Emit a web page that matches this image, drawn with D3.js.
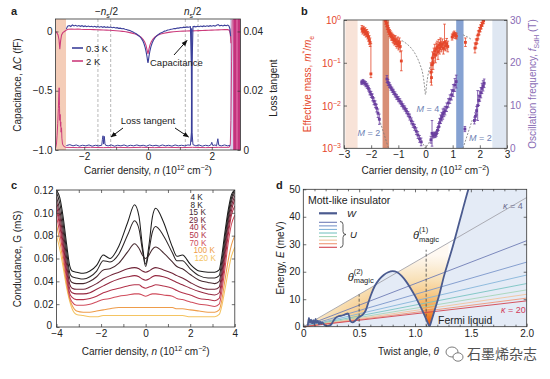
<!DOCTYPE html>
<html><head><meta charset="utf-8">
<script src="https://cdn.jsdelivr.net/npm/d3@7"></script>
<style>body{margin:0;background:#fff}svg{display:block}</style>
</head><body><svg id="chart" width="550" height="379"></svg>
<script>
// ================= DATA =================
// ---- panel a ----
const aPeach = [-2.9, -2.57], aLav = [2.57, 2.67], aMag = [2.67, 2.9];
const aNsLines = [-1.57, -1.17, 1.17, 1.57];
const capBlue = [[-2.56,0.02],[-2.52,0.045],[-2.47,0.05],[-2.42,0.042],[-2.37,0.055],[-2.32,0.046],[-2.27,0.052],[-2.22,0.044],[-2.17,0.05],[-2.12,0.043],[-2.07,0.049],[-2.02,0.041],[-1.97,0.047],[-1.92,0.04],[-1.87,0.046],[-1.82,0.04],[-1.77,0.044],[-1.72,0.038],[-1.67,0.043],[-1.62,0.037],[-1.57,0.042],[-1.52,0.036],[-1.47,0.041],[-1.42,0.035],[-1.37,0.04],[-1.32,0.034],[-1.27,0.038],[-1.22,0.033],[-1.17,0.037],[-1.12,0.031],[-1.07,0.035],[-1.02,0.029],[-0.97,0.032],[-0.92,0.026],[-0.87,0.028],[-0.82,0.023],[-0.77,0.024],[-0.72,0.018],[-0.67,0.017],[-0.62,0.011],[-0.57,0.008],[-0.52,0.001],[-0.47,-0.004],[-0.42,-0.012],[-0.37,-0.02],[-0.32,-0.03],[-0.27,-0.04],[-0.22,-0.055],[-0.17,-0.075],[-0.13,-0.1],[-0.09,-0.135],[-0.06,-0.17],[-0.03,-0.215],[-0.01,-0.255],[0,-0.265],[0.01,-0.25],[0.03,-0.21],[0.06,-0.165],[0.09,-0.13],[0.13,-0.098],[0.17,-0.074],[0.22,-0.053],[0.27,-0.038],[0.32,-0.027],[0.37,-0.018],[0.42,-0.01],[0.47,-0.004],[0.52,0.003],[0.57,0.006],[0.62,0.012],[0.67,0.014],[0.72,0.019],[0.77,0.02],[0.82,0.025],[0.87,0.024],[0.92,0.029],[0.97,0.028],[1.02,0.033],[1.07,0.031],[1.12,0.036],[1.17,0.033],[1.22,0.038],[1.27,0.035],[1.33,0.04],[1.36,-0.3],[1.37,-0.93],[1.38,-0.3],[1.41,0.04],[1.45,0.043],[1.5,0.039],[1.55,0.044],[1.6,0.04],[1.65,0.046],[1.7,0.041],[1.75,0.047],[1.8,0.042],[1.85,0.048],[1.9,0.043],[1.95,0.049],[2.0,0.044],[2.05,0.05],[2.1,0.045],[2.15,0.052],[2.2,0.058],[2.25,0.047],[2.3,0.052],[2.35,0.046],[2.4,0.053],[2.45,0.048],[2.5,0.054],[2.54,0.045],[2.57,0.02],[2.59,-0.04]];
const capPink = [[-2.9,0.0],[-2.86,-0.01],[-2.82,-0.03],[-2.79,-0.07],[-2.765,-0.15],[-2.74,-0.08],[-2.71,-0.03],[-2.67,-0.01],[-2.62,0.0],[-2.56,0.012],[-2.5,0.018],[-2.4,0.02],[-2.3,0.019],[-2.2,0.02],[-2.1,0.018],[-2.0,0.017],[-1.9,0.016],[-1.8,0.016],[-1.7,0.015],[-1.6,0.014],[-1.5,0.013],[-1.4,0.012],[-1.3,0.011],[-1.2,0.01],[-1.1,0.008],[-1.0,0.006],[-0.9,0.004],[-0.8,0.001],[-0.7,-0.003],[-0.6,-0.008],[-0.5,-0.014],[-0.4,-0.022],[-0.3,-0.034],[-0.22,-0.048],[-0.15,-0.068],[-0.1,-0.09],[-0.06,-0.12],[-0.03,-0.155],[0,-0.19],[0.03,-0.15],[0.06,-0.115],[0.1,-0.088],[0.15,-0.066],[0.22,-0.047],[0.3,-0.033],[0.4,-0.022],[0.5,-0.015],[0.6,-0.01],[0.7,-0.006],[0.8,-0.003],[0.9,0.0],[1.0,0.002],[1.1,0.003],[1.2,0.004],[1.3,0.005],[1.4,0.005],[1.5,0.006],[1.6,0.007],[1.7,0.008],[1.8,0.009],[1.9,0.01],[2.0,0.011],[2.1,0.012],[2.2,0.013],[2.3,0.014],[2.4,0.015],[2.5,0.015],[2.55,0.01],[2.58,-0.02],[2.6,-0.1]];
const ltBlue = [[-2.56,0.0015],[-2.45,0.0018],[-2.35,0.0014],[-2.25,0.0017],[-2.15,0.0013],[-2.05,0.0016],[-1.95,0.0014],[-1.85,0.0017],[-1.75,0.0013],[-1.65,0.0016],[-1.55,0.0014],[-1.45,0.0016],[-1.43,0.0035],[-1.41,0.0048],[-1.39,0.002],[-1.37,0.0046],[-1.35,0.0022],[-1.33,0.0016],[-1.25,0.0014],[-1.15,0.0017],[-1.05,0.0013],[-0.95,0.0016],[-0.85,0.0014],[-0.75,0.0017],[-0.65,0.0013],[-0.55,0.0016],[-0.45,0.0014],[-0.35,0.0017],[-0.25,0.0014],[-0.15,0.0016],[-0.05,0.0013],[0.05,0.0017],[0.15,0.0014],[0.25,0.0016],[0.35,0.0013],[0.45,0.0017],[0.55,0.0014],[0.65,0.0016],[0.75,0.0013],[0.85,0.0017],[0.95,0.0014],[1.05,0.0016],[1.15,0.0014],[1.25,0.0017],[1.33,0.0016],[1.36,0.006],[1.37,0.041],[1.38,0.006],[1.41,0.0018],[1.5,0.0014],[1.6,0.0017],[1.7,0.0013],[1.8,0.0016],[1.9,0.0014],[1.97,0.0017],[2.0,0.0026],[2.03,0.0015],[2.1,0.0017],[2.15,0.0014],[2.19,0.0038],[2.22,0.0016],[2.3,0.0014],[2.4,0.0017],[2.5,0.0014],[2.58,0.0016]];
const ltPink = [[-2.9,0.0005],[-2.87,0.002],[-2.85,0.005],[-2.83,0.009],[-2.81,0.014],[-2.795,0.019],[-2.785,0.021],[-2.775,0.015],[-2.765,0.01],[-2.755,0.012],[-2.745,0.008],[-2.735,0.0095],[-2.725,0.006],[-2.71,0.0075],[-2.70,0.004],[-2.68,0.002],[-2.64,0.0012],[-2.58,0.0009],[-2.2,0.0008],[-1.8,0.0009],[-1.4,0.0008],[-1.0,0.0009],[-0.6,0.0008],[-0.2,0.0009],[0.2,0.0008],[0.6,0.0009],[1.0,0.0008],[1.4,0.0009],[1.8,0.0008],[2.2,0.0009],[2.55,0.0009],[2.58,0.002],[2.6,0.01],[2.62,0.03],[2.64,0.044]];

// ---- panel b ----
const bBandRanges = [[-2.95,-2.5],[-1.58,-1.34],[1.13,1.40],[2.46,2.97]];
// effective mass points: [n, m*/me, lower, upper]
const massPts = [[-2.34,0.62,0.52,0.74],[-2.31,0.56,0.47,0.66],[-2.28,0.60,0.50,0.71],[-2.25,0.53,0.44,0.63],[-2.22,0.55,0.45,0.66],[-2.19,0.48,0.40,0.58],[-2.16,0.50,0.41,0.60],[-2.13,0.44,0.36,0.54],[-2.10,0.40,0.32,0.50],[-2.07,0.34,0.27,0.43],[-2.04,0.30,0.24,0.38],[-2.01,0.055,0.045,0.28],
[-1.47,0.95,0.80,1.1],[-1.44,0.85,0.70,1.0],[-1.41,0.72,0.60,0.86],[-1.38,0.62,0.52,0.74],[-1.35,0.55,0.46,0.66],[-1.32,0.50,0.41,0.60],[-1.29,0.46,0.38,0.56],[-1.26,0.42,0.34,0.52],[-1.23,0.40,0.33,0.49],[-1.20,0.37,0.30,0.46],[-1.17,0.35,0.28,0.44],[-1.14,0.33,0.26,0.42],[-1.11,0.34,0.27,0.43],[-1.08,0.30,0.24,0.38],[-1.05,0.28,0.22,0.36],[-1.02,0.31,0.24,0.40],[-0.99,0.26,0.20,0.34],[-0.96,0.29,0.22,0.38],[-0.93,0.24,0.18,0.32],[-0.89,0.11,0.065,0.19],
[0.20,0.06,0.035,0.10],[0.22,0.045,0.03,0.07],[0.24,0.09,0.06,0.13],[0.26,0.13,0.09,0.18],[0.28,0.10,0.07,0.15],[0.31,0.16,0.11,0.22],[0.34,0.19,0.13,0.27],[0.37,0.15,0.10,0.22],[0.40,0.21,0.15,0.29],[0.43,0.23,0.16,0.32],[0.46,0.18,0.12,0.26],[0.49,0.26,0.19,0.35],[0.52,0.22,0.16,0.30],[0.55,0.28,0.20,0.38],[0.58,0.24,0.18,0.32],[0.62,0.27,0.20,0.36],[0.66,0.22,0.16,0.30],[0.70,0.30,0.20,0.80],[0.74,0.25,0.19,0.33],[0.78,0.28,0.21,0.37],[0.82,0.24,0.18,0.32],
[0.98,0.40,0.34,0.47],[1.02,0.45,0.38,0.52],[1.06,0.47,0.40,0.55],[1.10,0.44,0.37,0.51],[1.14,0.42,0.36,0.49],[1.47,0.30,0.24,0.38],
[1.82,0.22,0.17,0.29],[1.86,0.28,0.22,0.36],[1.90,0.35,0.28,0.44],[1.94,0.45,0.36,0.56],[1.98,0.55,0.45,0.67],[2.02,0.64,0.53,0.77],[2.06,0.74,0.62,0.88],[2.10,0.85,0.72,1.0],[2.14,0.95,0.82,1.0]];
const massDash = [[-0.87,0.33],[-0.7,0.28],[-0.5,0.21],[-0.35,0.15],[-0.2,0.09],[-0.1,0.055],[-0.04,0.03],[0,0.018],[0.04,0.03],[0.1,0.055],[0.2,0.09],[0.35,0.15]];
const massDash2 = [[1.38,0.45],[1.55,0.4],[1.72,0.34]];
// SdH frequency points: [n, f (T), err]
const freqPts = [[-2.35,15.4,0.5],[-2.30,15.6,0.5],[-2.25,15.3,0.5],[-2.20,15.0,0.6],[-2.15,14.6,0.6],[-2.10,14.0,0.6],[-2.05,13.2,0.7],[-2.00,12.6,0.7],[-1.95,11.9,0.8],[-1.90,11.0,0.8],[-1.85,10.3,0.8],[-1.80,9.4,0.9],[-1.75,8.2,1.0],[-1.70,6.8,1.2],
[-1.42,16.2,0.8],[-1.38,15.4,0.7],[-1.33,14.8,0.6],[-1.28,14.2,0.6],[-1.23,13.7,0.6],[-1.18,13.2,0.6],[-1.12,12.6,0.6],[-1.06,12.0,0.6],[-1.00,11.5,0.6],[-0.94,11.0,0.6],[-0.88,10.4,0.6],[-0.82,9.8,0.6],[-0.76,9.3,0.6],[-0.70,8.7,0.6],[-0.64,8.0,0.6],[-0.58,7.3,0.7],[-0.52,6.4,0.7],[-0.46,5.6,0.7],[-0.40,4.9,0.7],[-0.34,4.0,0.8],[-0.28,3.1,0.8],[-0.22,2.2,0.8],[-0.16,1.5,0.9],
[0.20,2.0,0.8],[0.24,3.5,3.0],[0.28,3.0,0.6],[0.32,3.2,0.6],[0.36,3.1,0.6],[0.40,3.4,0.6],
[0.44,4.2,0.7],[0.48,5.0,0.8],[0.52,6.0,1.0],[0.56,6.8,1.0],[0.60,7.4,1.0],[0.64,8.0,1.2],[0.68,8.4,1.0],[0.72,8.8,1.0],[0.78,9.6,1.0],[0.84,10.6,1.0],[0.90,11.5,1.0],[0.96,12.5,1.2],[1.02,13.5,1.4],[1.08,14.8,1.5],[1.13,15.6,1.5],
[1.45,4.5,0.6],
[1.80,6.5,0.8],[1.84,7.5,0.8],[1.88,8.8,1.0],[1.92,10.0,3.5],[1.96,11.2,1.2],[2.00,12.2,1.2],[2.04,13.0,1.2],[2.08,14.0,1.2],[2.12,14.6,1.2],[2.16,15.2,1.0]];
const freqDash = [[[-1.70,6.8],[-1.36,0]],[[-0.40,4.6],[0,0],[0.45,4.6]],[[1.38,0],[1.72,6.6]]];
const bLabelsM = [["M = 2",-2.5,3.8],["M = 4",-0.33,9.2],["M = 2",1.6,2.5]];

// ---- panel c ----
const cTemps = ["4 K","8 K","15 K","29 K","40 K","50 K","70 K","100 K","120 K"];
const cN = [-4,-3.85,-3.7,-3.55,-3.4,-3.3,-3.1,-2.8,-2.5,-2.2,-1.9,-1.6,-1.2,-0.8,-0.5,-0.3,-0.15,0,0.15,0.3,0.45,0.8,1.2,1.4,1.65,2.0,2.4,2.8,3.1,3.3,3.4,3.55,3.7,3.85,4.0];
const cG = [
 [0.120,0.113,0.096,0.073,0.053,0.049,0.048,0.047,0.049,0.054,0.063,0.060,0.071,0.092,0.107,0.097,0.072,0.055,0.072,0.096,0.104,0.092,0.070,0.062,0.063,0.055,0.049,0.048,0.048,0.050,0.060,0.082,0.102,0.116,0.120],
 [0.118,0.108,0.090,0.067,0.047,0.044,0.043,0.042,0.044,0.049,0.058,0.057,0.064,0.081,0.093,0.086,0.068,0.053,0.067,0.083,0.088,0.080,0.065,0.058,0.058,0.051,0.045,0.043,0.043,0.045,0.055,0.077,0.098,0.113,0.120],
 [0.114,0.102,0.084,0.061,0.042,0.039,0.038,0.038,0.040,0.044,0.050,0.051,0.056,0.066,0.073,0.069,0.063,0.060,0.063,0.068,0.070,0.065,0.057,0.053,0.051,0.046,0.041,0.039,0.038,0.040,0.050,0.072,0.094,0.110,0.118],
 [0.110,0.097,0.078,0.055,0.037,0.034,0.033,0.033,0.035,0.038,0.042,0.045,0.048,0.051,0.052,0.051,0.049,0.048,0.049,0.051,0.052,0.050,0.047,0.045,0.043,0.039,0.035,0.033,0.033,0.035,0.045,0.067,0.090,0.106,0.115],
 [0.106,0.092,0.073,0.050,0.033,0.030,0.029,0.029,0.030,0.033,0.036,0.039,0.042,0.044,0.045,0.044,0.042,0.041,0.042,0.044,0.045,0.044,0.041,0.039,0.037,0.034,0.031,0.029,0.028,0.030,0.040,0.062,0.085,0.102,0.112],
 [0.102,0.088,0.068,0.046,0.029,0.026,0.024,0.024,0.025,0.027,0.030,0.032,0.034,0.036,0.037,0.037,0.035,0.034,0.035,0.036,0.037,0.036,0.034,0.032,0.030,0.028,0.025,0.024,0.023,0.025,0.035,0.057,0.080,0.098,0.106],
 [0.097,0.082,0.063,0.042,0.026,0.022,0.019,0.019,0.020,0.022,0.024,0.025,0.027,0.028,0.029,0.029,0.028,0.027,0.028,0.029,0.029,0.028,0.027,0.025,0.024,0.022,0.020,0.019,0.018,0.020,0.029,0.050,0.073,0.090,0.098],
 [0.090,0.075,0.057,0.038,0.024,0.019,0.014,0.013,0.013,0.014,0.015,0.016,0.017,0.017,0.017,0.017,0.017,0.017,0.017,0.017,0.017,0.017,0.017,0.016,0.016,0.015,0.014,0.013,0.013,0.015,0.022,0.040,0.058,0.072,0.080],
 [0.080,0.068,0.052,0.035,0.022,0.016,0.011,0.010,0.009,0.009,0.010,0.010,0.010,0.010,0.010,0.010,0.010,0.010,0.010,0.010,0.010,0.010,0.010,0.010,0.010,0.009,0.009,0.009,0.009,0.011,0.017,0.032,0.048,0.062,0.070]];

// ---- panel d ----
const wTheta = [0.04,0.05,0.06,0.07,0.08,0.09,0.10,0.11,0.12,0.13,0.14,0.15,0.16,0.17,0.19,0.21,0.23,0.25,0.27,0.29,0.31,0.34,0.37,0.40,0.41,0.42,0.44,0.46,0.48,0.50,0.53,0.56,0.58,0.61,0.64,0.68,0.72,0.76,0.80,0.84,0.88,0.92,0.96,1.00,1.04,1.08,1.11,1.13,1.15,1.18,1.22,1.26,1.30,1.34,1.38,1.42,1.46,1.50];
const wE = [0.3,3.2,1.5,2.6,1.2,2.4,0.8,2.8,1.4,2.2,0.9,1.8,1.0,1.6,0.6,0.3,0.4,0.8,2.2,3.2,3.7,4.0,4.4,4.8,4.0,2.2,1.6,2.0,2.8,3.5,4.3,6.0,8.5,12.0,14.8,17.2,18.8,19.8,20.2,19.8,18.5,16.5,14.0,11.2,8.0,4.6,1.8,0.2,2.5,6.5,12,18.5,24,29.5,35.5,41.5,47.5,53];
const kappas = [4,6,8,10,12,14,16,18,20];
const uAt2 = [47,31.3,23.5,18.8,15.7,13.4,11.8,10.4,9.4];   // U (meV) at θ = 2°
const magic = [[0.5,11.8,"(2)"],[1.1,28,"(1)"]];

// ================= STYLES =================
const FONT = '"Liberation Sans", Arial, Helvetica, sans-serif';
const BLUE = '#3b3f9a', PINK = '#cc3c7c';
const RED = '#e5472b', PURPLE = '#6a3f9f';
const bBandColors = ['#f8e3d8','#d88f76','#86a2d2','#dfe7f2'];
const cColors = ['#1c1c1c','#2c2526','#47292f','#6f2437','#952840','#b3324a','#d04c5c','#ee9c4a','#f4c462'];
const kColors = ['#a4a4ac','#6f7db6','#7b96cb','#86b5da','#79c4c2','#a6d5b8','#f2c49c','#ef9676','#d2434f'];

const svg = d3.select('#chart');
const defs = svg.append('defs');
defs.append('marker').attr('id','arr').attr('viewBox','0 0 10 10').attr('refX',9).attr('refY',5)
  .attr('markerWidth',6).attr('markerHeight',6).attr('orient','auto')
  .append('path').attr('d','M0,1 L10,5 L0,9 z').attr('fill','#111');

function clip(id,x0,x1,y0,y1){
  defs.append('clipPath').attr('id',id).append('rect').attr('x',x0).attr('y',y0).attr('width',x1-x0).attr('height',y1-y0);
}
function frame(g,x0,x1,y0,y1){
  g.append('rect').attr('x',x0).attr('y',y0).attr('width',x1-x0).attr('height',y1-y0)
    .attr('fill','none').attr('stroke','#333').attr('stroke-width',0.8);
}
function axis(g,type,scale,pos,vals,o={}){
  const a = d3['axis'+type](scale).tickValues(vals).tickSizeInner(-(o.len||3)).tickSizeOuter(0).tickPadding(o.pad||3);
  if(o.fmt) a.tickFormat(o.fmt);
  const t = g.append('g').attr('transform', (type==='Bottom'||type==='Top')?`translate(0,${pos})`:`translate(${pos},0)`).call(a);
  t.select('.domain').remove();
  t.selectAll('text').attr('font-size',o.size||10).attr('font-family',FONT).attr('fill',o.color||'#222');
  t.selectAll('line').attr('stroke','#333').attr('stroke-width',0.7);
  if(o.noLabels) t.selectAll('text').remove();
  return t;
}
function rich(parent,parts,o){
  const fs=o.size||10;
  const t=parent.append('text').attr('font-size',fs).attr('fill',o.fill||'#222')
    .attr('text-anchor',o.anchor||'start').attr('font-family',o.font||FONT);
  if(o.weight) t.attr('font-weight',o.weight);
  if(o.rotate) t.attr('transform',`translate(${o.x},${o.y}) rotate(${o.rotate})`);
  else t.attr('x',o.x).attr('y',o.y);
  let cur=0;
  parts.forEach(p=>{
    const [s,st]=Array.isArray(p)?[p[0],p[1]||'']:[p,''];
    const ts=t.append('tspan').text(s);
    let off=0;
    if(st.includes('sup')) off=-0.4*fs; else if(st.includes('sub')) off=0.28*fs;
    if(off!==cur){ts.attr('dy',off-cur);cur=off;}
    if(st.includes('sup')||st.includes('sub')) ts.attr('font-size',fs*0.7);
    if(st.includes('i')) ts.attr('font-style','italic');
  });
  return t;
}
const xLabelParts = ["Carrier density, ",["n","i"]," (10",["12","sup"]," cm",["−2","sup"],")"];

// ================= PANEL A =================
{
  const g=svg.append('g');
  const X0=55.5,X1=240.5,Y0=19,Y1=150;
  const x=d3.scaleLinear().domain([-2.9,2.9]).range([X0,X1]);
  const yC=d3.scaleLinear().domain([-1,0.105]).range([Y1,Y0]);
  const yL=d3.scaleLinear().domain([0,0.0442]).range([Y1,Y0]);
  clip('clipA',X0,X1,Y0,Y1);
  const p=g.append('g').attr('clip-path','url(#clipA)');
  p.append('rect').attr('x',x(aPeach[0])).attr('width',x(aPeach[1])-x(aPeach[0])).attr('y',Y0).attr('height',Y1-Y0).attr('fill','#f4cdb8');
  p.append('rect').attr('x',x(aLav[0])).attr('width',x(aLav[1])-x(aLav[0])).attr('y',Y0).attr('height',Y1-Y0).attr('fill','#d9d4ec');
  p.append('rect').attr('x',x(aMag[0])).attr('width',x(aMag[1])-x(aMag[0])).attr('y',Y0).attr('height',Y1-Y0).attr('fill','#c4327c');
  p.append('rect').attr('x',x(2.77)).attr('width',x(2.81)-x(2.77)).attr('y',Y0).attr('height',Y1-Y0).attr('fill','#df6ea6');
  p.selectAll('line.ns').data(aNsLines).join('line').attr('x1',d=>x(d)).attr('x2',d=>x(d)).attr('y1',Y0).attr('y2',Y1)
    .attr('stroke','#9a9a9a').attr('stroke-width',0.7).attr('stroke-dasharray','3,2');
  const lc=d3.line().x(d=>x(d[0])).y(d=>yC(d[1]));
  const ll=d3.line().x(d=>x(d[0])).y(d=>yL(d[1]));
  p.append('path').attr('d',lc(capPink)).attr('fill','none').attr('stroke',PINK).attr('stroke-width',1.1);
  p.append('path').attr('d',ll(ltPink)).attr('fill','none').attr('stroke',PINK).attr('stroke-width',1.0);
  p.append('path').attr('d',lc(capBlue)).attr('fill','none').attr('stroke',BLUE).attr('stroke-width',1.1);
  p.append('path').attr('d',ll(ltBlue)).attr('fill','none').attr('stroke',BLUE).attr('stroke-width',1.0);
  frame(g,X0,X1,Y0,Y1);
  axis(g,'Bottom',x,Y1,[-2,0,2],{fmt:d3.format('d')});
  axis(g,'Bottom',x,Y1,[-1,1],{noLabels:true});
  axis(g,'Left',yC,X0,[0,-0.5,-1],{fmt:d=>d===0?'0':d3.format('.1f')(d)});
  axis(g,'Right',yL,X1,[0,0.02,0.04],{fmt:d=>d===0?'0':d3.format('.2f')(d)});
  [[BLUE,'0.3 K',48],[PINK,'2 K',61]].forEach(([c,t,yy])=>{
    g.append('line').attr('x1',72).attr('x2',83).attr('y1',yy).attr('y2',yy).attr('stroke',c).attr('stroke-width',1.6);
    g.append('text').attr('x',86).attr('y',yy+3.5).attr('font-size',9.5).attr('font-family',FONT).attr('fill','#222').text(t);
  });
  g.append('text').attr('x',150).attr('y',65.5).attr('font-size',9.5).attr('font-family',FONT).attr('fill','#222').text('Capacitance');
  g.append('line').attr('x1',174).attr('y1',55).attr('x2',187).attr('y2',40.5).attr('stroke','#111').attr('stroke-width',1).attr('marker-end','url(#arr)');
  g.append('text').attr('x',148).attr('y',123.5).attr('text-anchor','middle').attr('font-size',9.5).attr('font-family',FONT).attr('fill','#222').text('Loss tangent');
  g.append('line').attr('x1',123).attr('y1',128).attr('x2',111).attr('y2',137).attr('stroke','#111').attr('stroke-width',1).attr('marker-end','url(#arr)');
  g.append('line').attr('x1',175).attr('y1',128).attr('x2',188.5).attr('y2',137).attr('stroke','#111').attr('stroke-width',1).attr('marker-end','url(#arr)');
  rich(g,["−",["n","i"],["s","sub"],"/2"],{x:x(-1.3),y:15,anchor:'middle',size:10});
  rich(g,[["n","i"],["s","sub"],"/2"],{x:x(1.4),y:15,anchor:'middle',size:10});
  rich(g,[["a"]],{x:11,y:15,size:11,weight:'bold'});
  rich(g,xLabelParts,{x:148,y:173.5,anchor:'middle',size:10});
  rich(g,["Capacitance, Δ",["C","i"]," (fF)"],{x:21,y:85,anchor:'middle',size:10,rotate:-90});
  rich(g,["Loss tangent"],{x:277,y:88,anchor:'middle',size:10,rotate:-90});
}

// ================= PANEL B =================
{
  const g=svg.append('g');
  const X0=344,X1=507,Y0=20,Y1=148.3;
  const x=d3.scaleLinear().domain([-3,3]).range([X0,X1]);
  const yM=d3.scaleLog().domain([1e-3,1]).range([Y1,Y0]);
  const yF=d3.scaleLinear().domain([0,30]).range([Y1,Y0]);
  clip('clipB',X0,X1,Y0,Y1);
  const p=g.append('g').attr('clip-path','url(#clipB)');
  p.selectAll('rect.band').data(bBandRanges).join('rect').attr('x',d=>x(d[0])).attr('width',d=>x(d[1])-x(d[0]))
    .attr('y',Y0).attr('height',Y1-Y0).attr('fill',(d,i)=>bBandColors[i]);
  const lm=d3.line().x(d=>x(d[0])).y(d=>yM(d[1])).curve(d3.curveMonotoneX);
  const lf=d3.line().x(d=>x(d[0])).y(d=>yF(d[1]));
  [massDash,massDash2].forEach(dd=>p.append('path').attr('d',lm(dd)).attr('fill','none').attr('stroke','#777').attr('stroke-width',0.8).attr('stroke-dasharray','2,1.5'));
  freqDash.forEach(dd=>p.append('path').attr('d',lf(dd)).attr('fill','none').attr('stroke','#777').attr('stroke-width',0.8).attr('stroke-dasharray','2,1.5'));
  const gm=p.append('g').attr('stroke',RED).attr('stroke-width',0.8);
  massPts.forEach(d=>{
    const xx=x(d[0]);
    gm.append('line').attr('x1',xx).attr('x2',xx).attr('y1',yM(d[2])).attr('y2',yM(d[3]));
    gm.append('line').attr('x1',xx-1.3).attr('x2',xx+1.3).attr('y1',yM(d[2])).attr('y2',yM(d[2]));
    gm.append('line').attr('x1',xx-1.3).attr('x2',xx+1.3).attr('y1',yM(d[3])).attr('y2',yM(d[3]));
    gm.append('rect').attr('x',xx-1.4).attr('y',yM(d[1])-1.4).attr('width',2.8).attr('height',2.8).attr('fill',RED).attr('stroke','none');
  });
  const gf=p.append('g').attr('stroke',PURPLE).attr('stroke-width',0.8);
  freqPts.forEach(d=>{
    const xx=x(d[0]);
    gf.append('line').attr('x1',xx).attr('x2',xx).attr('y1',yF(d[1]-d[2])).attr('y2',yF(d[1]+d[2]));
    gf.append('line').attr('x1',xx-1.3).attr('x2',xx+1.3).attr('y1',yF(d[1]-d[2])).attr('y2',yF(d[1]-d[2]));
    gf.append('line').attr('x1',xx-1.3).attr('x2',xx+1.3).attr('y1',yF(d[1]+d[2])).attr('y2',yF(d[1]+d[2]));
    gf.append('rect').attr('x',xx-1.4).attr('y',yF(d[1])-1.4).attr('width',2.8).attr('height',2.8).attr('fill',PURPLE).attr('stroke','none');
  });
  bLabelsM.forEach(([t,n,f])=>{
    const [m,rest]=[t.slice(0,1),t.slice(1)];
    rich(g,[[m,'i'],rest],{x:x(n),y:yF(f)+3.5,size:9,fill:'#6d82b4'});
  });
  frame(g,X0,X1,Y0,Y1);
  axis(g,'Bottom',x,Y1,[-3,-2,-1,0,1,2,3],{fmt:d3.format('d')});
  axis(g,'Left',yM,X0,[1,0.1,0.01,0.001],{noLabels:true});
  [[1,'0'],[0.1,'−1'],[0.01,'−2'],[0.001,'−3']].forEach(([v,e])=>{
    rich(g,["10",[e,'sup']],{x:X0-3,y:yM(v)+4,anchor:'end',size:10,fill:RED});
  });
  axis(g,'Right',yF,X1,[0,10,20,30],{fmt:d3.format('d'),color:'#8a6cb5'});
  rich(g,[["b"]],{x:301,y:15,size:11,weight:'bold'});
  rich(g,xLabelParts,{x:425.5,y:173.5,anchor:'middle',size:10});
  rich(g,["Effective mass, ",["m","i"],["*","sup"],"/",["m","i"],["e","sub"]],{x:311,y:84,anchor:'middle',size:10,rotate:-90,fill:RED});
  rich(g,["Oscillation frequency, ",["f","i"],["SdH","sub"]," (T)"],{x:536,y:84,anchor:'middle',size:10,rotate:-90,fill:'#8a6cb5'});
}

// ================= PANEL C =================
{
  const g=svg.append('g');
  const X0=56.5,X1=234.8,Y0=190,Y1=327;
  const x=d3.scaleLinear().domain([-4,4]).range([X0,X1]);
  const y=d3.scaleLinear().domain([0,0.12]).range([Y1,Y0]);
  clip('clipC',X0,X1,Y0,Y1);
  const p=g.append('g').attr('clip-path','url(#clipC)');
  const line=d3.line().x(d=>x(d[0])).y(d=>y(d[1])).curve(d3.curveMonotoneX);
  for(let k=cG.length-1;k>=0;k--){
    p.append('path').attr('d',line(cN.map((n,i)=>[n,cG[k][i]]))).attr('fill','none').attr('stroke',cColors[k]).attr('stroke-width',1.05);
  }
  frame(g,X0,X1,Y0,Y1);
  axis(g,'Bottom',x,Y1,[-4,-2,0,2,4],{fmt:d3.format('d')});
  axis(g,'Bottom',x,Y1,[-3,-1,1,3],{noLabels:true});
  axis(g,'Top',x,Y0,[-3,-2,-1,0,1,2,3],{noLabels:true});
  const ly=axis(g,'Left',y,X0,[0,0.02,0.04,0.06,0.08,0.1,0.12],{fmt:d=>d===0?'0':d3.format('.2f')(d)});
  ly.selectAll('.tick').filter(d=>d===0).select('text').attr('dy','0.1em').attr('x',-4.5);
  axis(g,'Right',y,X1,[0.02,0.04,0.06,0.08,0.1],{noLabels:true});
  const lx=[190.5,190.5,189,189,189.5,189.5,189.5,193.5,194.5];
  cTemps.forEach((t,i)=>{
    g.append('text').attr('x',lx[i]).attr('y',200+i*7.6).attr('font-size',8.2).attr('font-family',FONT).attr('fill',cColors[i]).text(t);
  });
  rich(g,[["c"]],{x:11,y:189,size:11,weight:'bold'});
  rich(g,xLabelParts,{x:145.6,y:355,anchor:'middle',size:10});
  rich(g,["Conductance, G (mS)"],{x:21,y:259,anchor:'middle',size:10,rotate:-90});
}

// ================= PANEL D =================
{
  const g=svg.append('g');
  const X0=303.3,X1=526.7,Y0=189.3,Y1=326.7;
  const x=d3.scaleLinear().domain([0,2]).range([X0,X1]);
  const y=d3.scaleLinear().domain([0,50]).range([Y1,Y0]);
  clip('clipD',X0,X1,Y0,Y1);
  const rg=defs.append('radialGradient').attr('id','og').attr('gradientUnits','userSpaceOnUse')
    .attr('cx',x(1.13)).attr('cy',y(0)).attr('r',72)
    .attr('gradientTransform',`translate(${x(1.13)},${y(0)}) scale(2.2,1) translate(${-x(1.13)},${-y(0)})`);
  [[0,'#e24b0c'],[0.1,'#ee6f1e'],[0.25,'#f4a14c'],[0.45,'#f7c987'],[0.65,'#f8e0b6'],[0.88,'#fcf1e0'],[1,'#fff9f2']]
    .forEach(([o,c])=>rg.append('stop').attr('offset',o).attr('stop-color',c));
  const p=g.append('g').attr('clip-path','url(#clipD)');
  const wPts=wTheta.map((t,i)=>[t,wE[i]]);
  const slope4=uAt2[0]/2;
  p.append('path').attr('d',d3.area().x(d=>x(d[0])).y0(y(0)).y1(d=>y(d[1])).curve(d3.curveMonotoneX)(wPts.concat([[2.0,60]])))
    .attr('fill','#e4ebf6');
  const oPts=wPts.filter(d=>d[0]>=0.12&&d[0]<=1.3);
  p.append('path').attr('d',d3.area().x(d=>x(d[0])).y0(d=>y(d[1])).y1(d=>y(Math.max(d[1],slope4*d[0]))).curve(d3.curveMonotoneX)(oPts))
    .attr('fill','url(#og)');
  kappas.forEach((k,i)=>{
    p.append('line').attr('x1',x(0)).attr('y1',y(0)).attr('x2',x(2)).attr('y2',y(uAt2[i]))
      .attr('stroke',kColors[i]).attr('stroke-width',0.9);
  });
  magic.forEach(([t,e])=>p.append('line').attr('x1',x(t)).attr('x2',x(t)).attr('y1',y(0)).attr('y2',y(e))
    .attr('stroke','#444').attr('stroke-width',0.8).attr('stroke-dasharray','3,2'));
  p.append('path').attr('d',d3.line().x(d=>x(d[0])).y(d=>y(d[1])).curve(d3.curveMonotoneX)(wPts))
    .attr('fill','none').attr('stroke','#4b5b8f').attr('stroke-width',1.8);
  frame(g,X0,X1,Y0,Y1);
  const minor=d3.range(1,20).map(i=>i/10).filter(v=>Math.abs(v*2-Math.round(v*2))>1e-6);
  axis(g,'Bottom',x,Y1,[0,0.5,1,1.5,2],{fmt:d=>d===0?'0':d3.format('.1f')(d)});
  axis(g,'Bottom',x,Y1,minor,{noLabels:true,len:2});
  axis(g,'Top',x,Y0,[0.5,1,1.5],{noLabels:true});
  axis(g,'Top',x,Y0,minor,{noLabels:true,len:2});
  axis(g,'Left',y,X0,[0,10,20,30,40,50],{fmt:d3.format('d')});
  axis(g,'Right',y,X1,[10,20,30,40],{noLabels:true});
  g.append('text').attr('x',308).attr('y',204).attr('font-size',10.5).attr('font-family',FONT).attr('fill','#222').text('Mott-like insulator');
  g.append('line').attr('x1',319).attr('x2',337).attr('y1',213.3).attr('y2',213.3).attr('stroke','#4b5b8f').attr('stroke-width',2.2);
  rich(g,[["W","i"]],{x:347,y:216.5,size:9.5});
  kColors.slice(1).forEach((c,i)=>{
    const yy=222.3+i*3.57;
    g.append('line').attr('x1',319).attr('x2',337).attr('y1',yy).attr('y2',yy).attr('stroke',c).attr('stroke-width',1.1);
  });
  g.append('path').attr('d','M340,221.5 q3,0 3,3 v7 q0,3 3,3 q-3,0 -3,3 v7 q0,3 -3,3')
    .attr('fill','none').attr('stroke','#333').attr('stroke-width',0.8);
  rich(g,[["U","i"]],{x:350,y:238,size:9.5});
  rich(g,[["κ","i"]," = 4"],{x:503,y:208.5,size:9,fill:'#6e6e8e'});
  rich(g,[["κ","i"]," = 20"],{x:501,y:312.5,size:9,fill:'#d23c5a'});
  g.append('text').attr('x',438).attr('y',324).attr('font-size',10.5).attr('font-family',FONT).attr('fill','#222').text('Fermi liquid');
  [[347.7,280.5,'(2)'],[413,239,'(1)']].forEach(([xx,yy,s])=>{
    rich(g,[["θ","i"]],{x:xx,y:yy,size:11});
    g.append('text').attr('x',xx+6).attr('y',yy-7).attr('font-size',7.5).attr('font-family',FONT).attr('fill','#222').text(s);
    g.append('text').attr('x',xx+6).attr('y',yy+2.5).attr('font-size',7.5).attr('font-family',FONT).attr('fill','#222').text('magic');
  });
  rich(g,[["d"]],{x:276,y:189,size:11,weight:'bold'});
  rich(g,["Twist angle, ",["θ","i"]],{x:378,y:355,size:10});
  rich(g,["Energy, ",["E","i"]," (meV)"],{x:284,y:258,anchor:'middle',size:10,rotate:-90});
  const wm=g.append('g').attr('opacity',0.85);
  wm.append('ellipse').attr('cx',452).attr('cy',352).attr('rx',6).attr('ry',5).attr('fill','#fff').attr('stroke','#555').attr('stroke-width',0.9);
  wm.append('ellipse').attr('cx',458).attr('cy',357).attr('rx',5).attr('ry',4.2).attr('fill','#fff').attr('stroke','#555').attr('stroke-width',0.9);
  wm.append('text').attr('x',467).attr('y',359).attr('font-size',14).attr('font-family','"Noto Sans CJK SC", sans-serif').attr('fill','#333').text('石墨烯杂志');
}
</script></body></html>
